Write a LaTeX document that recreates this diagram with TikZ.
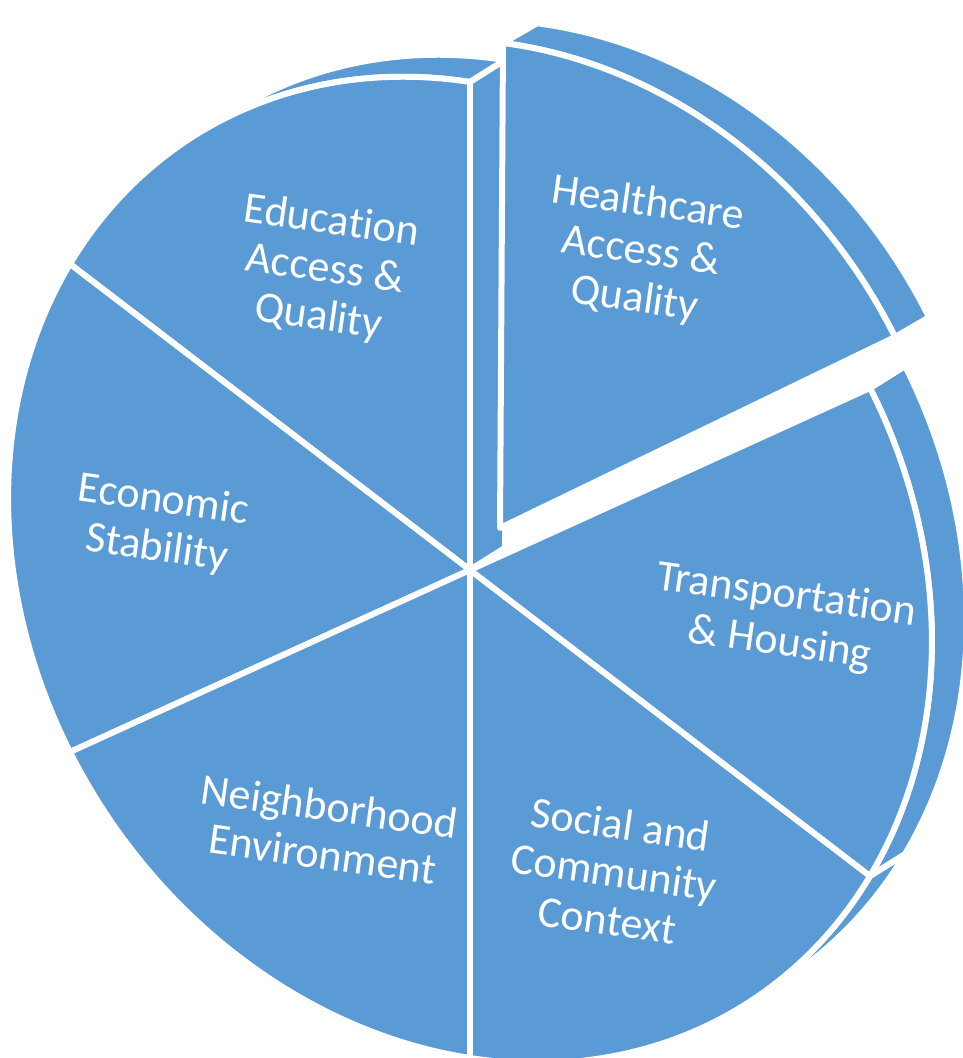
\documentclass[tikz,border=0pt]{standalone}
\usepackage{fontspec}
\setmainfont{Carlito}[Ligatures=NoCommon]
\usepackage{tikz}

\definecolor{pieblue}{RGB}{91,155,213}

\begin{document}
\begin{tikzpicture}
	\tikzstyle{face} = [fill=pieblue,draw=white,line width=3.4pt,line join=round]
	\tikzstyle{rim}  = [fill=pieblue,draw=white,line width=3.4pt,line join=round]
	\tikzstyle{lbl}  = [text=white,align=center,rotate=-8,font=\fontsize{25}{27.5}\selectfont]

	\useasboundingbox (0,0) rectangle (19.26,21.16);
	\clip (0,0) rectangle (19.26,21.16);

	% tilted disc: unit circle in a slanted frame
	\begin{scope}[shift={(9.4,9.76)},x={(9.238cm,-1.432cm)},y={(0cm,9.76cm)}]
		\foreach \a/\b in {90/150,150/210,210/270,270/330,330/390}
			\filldraw[rim] (\a:1) arc[start angle=\a,end angle=\b,radius=1]
				-- ++(0.0758,0.0562) arc[start angle=\b,end angle=\a,radius=1] -- cycle;

		% inner walls left open by the pulled-out piece
		\filldraw[rim] (0,0) -- (90:1) -- ++(0.0758,0.0562) -- (0.0758,0.0562) -- cycle;
		\filldraw[rim] (0,0) -- (30:1) -- ++(0.0758,0.0562) -- (0.0758,0.0562) -- cycle;

		\foreach \a/\b in {90/150,150/210,210/270,270/330,330/390}
			\filldraw[face] (0,0) -- (\a:1) arc[start angle=\a,end angle=\b,radius=1] -- cycle;
	\end{scope}

	% pulled-out piece
	\begin{scope}[shift={(10.0,10.6)},x={(9.088cm,-1.19cm)},y={(0.06cm,9.7cm)}]
		\filldraw[rim] (30:1) arc[start angle=30,end angle=90,radius=1]
			-- ++(0.0745,0.0498) arc[start angle=90,end angle=30,radius=1] -- cycle;
		\filldraw[face] (0,0) -- (30:1) arc[start angle=30,end angle=90,radius=1] -- cycle;
	\end{scope}

	\node[lbl] (edu)    at (6.5,15.76)  {Education\\Access \&\\Quality};
	\node[lbl] (health) at (12.82,16.12) {Healthcare\\Access \&\\Quality};
	\node[lbl] (econ)   at (3.2,10.66)  {Economic\\Stability};
	\node[lbl] (trans)  at (15.66,8.76) {Transportation\\\& Housing};
	\node[lbl] (neigh)  at (6.52,4.56)  {Neighborhood\\Environment};
	\node[lbl] (social) at (12.28,3.72) {Social and\\Community\\Context};
\end{tikzpicture}
\end{document}
